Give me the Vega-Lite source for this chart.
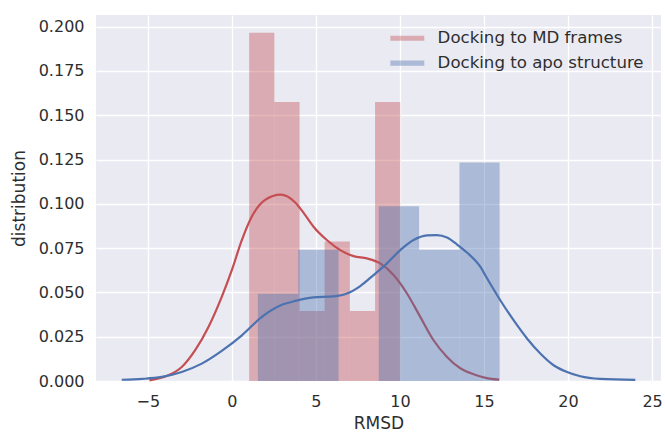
{
  "$schema": "https://vega.github.io/schema/vega-lite/v6.json",
  "width": 565,
  "height": 366,
  "autosize": "none",
  "padding": {"left": 96, "top": 15, "right": 4, "bottom": 52},
  "background": "white",
  "config": {
    "font": "DejaVu Sans",
    "view": {"fill": "#EAEAF2", "stroke": null},
    "axis": {
      "domain": false,
      "ticks": false,
      "gridColor": "white",
      "gridWidth": 1.3,
      "labelFont": "DejaVu Sans",
      "labelFontSize": 16,
      "labelColor": "#2e2e2e",
      "titleFont": "DejaVu Sans",
      "titleFontSize": 17,
      "titleFontWeight": "normal",
      "titleColor": "#2e2e2e"
    }
  },
  "datasets": {
    "hist": [
      {"series": "Docking to MD frames", "x0": 1.03, "x1": 2.53, "density": 0.1966},
      {"series": "Docking to MD frames", "x0": 2.53, "x1": 4.03, "density": 0.1575},
      {"series": "Docking to MD frames", "x0": 4.03, "x1": 5.52, "density": 0.0395},
      {"series": "Docking to MD frames", "x0": 5.52, "x1": 7.02, "density": 0.0788},
      {"series": "Docking to MD frames", "x0": 7.02, "x1": 8.52, "density": 0.0395},
      {"series": "Docking to MD frames", "x0": 8.52, "x1": 10.02, "density": 0.1575},
      {"series": "Docking to apo structure", "x0": 1.55, "x1": 3.95, "density": 0.0493},
      {"series": "Docking to apo structure", "x0": 3.95, "x1": 6.35, "density": 0.0741},
      {"series": "Docking to apo structure", "x0": 6.35, "x1": 8.74, "density": 0.0},
      {"series": "Docking to apo structure", "x0": 8.74, "x1": 11.14, "density": 0.0986},
      {"series": "Docking to apo structure", "x0": 11.14, "x1": 13.54, "density": 0.0741},
      {"series": "Docking to apo structure", "x0": 13.54, "x1": 15.93, "density": 0.1234}
    ],
    "kde": [
      {"series": "red", "x": -4.9, "y": 0.0004},
      {"series": "red", "x": -3.78, "y": 0.0032},
      {"series": "red", "x": -2.98, "y": 0.0079},
      {"series": "red", "x": -2.18, "y": 0.0174},
      {"series": "red", "x": -1.39, "y": 0.0305},
      {"series": "red", "x": -0.6, "y": 0.0475},
      {"series": "red", "x": 0.0, "y": 0.0626},
      {"series": "red", "x": 0.6, "y": 0.0796},
      {"series": "red", "x": 1.19, "y": 0.0928},
      {"series": "red", "x": 1.98, "y": 0.1022},
      {"series": "red", "x": 2.9, "y": 0.1052},
      {"series": "red", "x": 3.77, "y": 0.1008},
      {"series": "red", "x": 4.3, "y": 0.0945},
      {"series": "red", "x": 4.86, "y": 0.0871},
      {"series": "red", "x": 5.65, "y": 0.0796},
      {"series": "red", "x": 6.45, "y": 0.0739},
      {"series": "red", "x": 7.24, "y": 0.0705},
      {"series": "red", "x": 8.04, "y": 0.0692},
      {"series": "red", "x": 8.83, "y": 0.0664},
      {"series": "red", "x": 9.62, "y": 0.0598},
      {"series": "red", "x": 10.42, "y": 0.0494},
      {"series": "red", "x": 11.21, "y": 0.0362},
      {"series": "red", "x": 12.0, "y": 0.023},
      {"series": "red", "x": 12.8, "y": 0.0136},
      {"series": "red", "x": 13.59, "y": 0.0072},
      {"series": "red", "x": 14.38, "y": 0.0038},
      {"series": "red", "x": 15.1, "y": 0.0018},
      {"series": "red", "x": 15.9, "y": 0.0008},
      {"series": "blue", "x": -6.55, "y": 0.0007},
      {"series": "blue", "x": -5.3, "y": 0.0012},
      {"series": "blue", "x": -4.17, "y": 0.0023},
      {"series": "blue", "x": -2.98, "y": 0.0051},
      {"series": "blue", "x": -1.79, "y": 0.0098},
      {"series": "blue", "x": -0.6, "y": 0.017},
      {"series": "blue", "x": 0.6, "y": 0.0258},
      {"series": "blue", "x": 1.79, "y": 0.0362},
      {"series": "blue", "x": 2.98, "y": 0.043},
      {"series": "blue", "x": 3.77, "y": 0.0452},
      {"series": "blue", "x": 4.86, "y": 0.0472},
      {"series": "blue", "x": 6.05, "y": 0.0478},
      {"series": "blue", "x": 6.85, "y": 0.0494},
      {"series": "blue", "x": 7.64, "y": 0.0536},
      {"series": "blue", "x": 8.43, "y": 0.0598},
      {"series": "blue", "x": 9.23, "y": 0.0664},
      {"series": "blue", "x": 10.02, "y": 0.0739},
      {"series": "blue", "x": 10.81, "y": 0.0796},
      {"series": "blue", "x": 11.61, "y": 0.0822},
      {"series": "blue", "x": 12.2, "y": 0.0824},
      {"series": "blue", "x": 12.8, "y": 0.081},
      {"series": "blue", "x": 13.4, "y": 0.077},
      {"series": "blue", "x": 13.99, "y": 0.0725},
      {"series": "blue", "x": 14.78, "y": 0.0645},
      {"series": "blue", "x": 15.18, "y": 0.058},
      {"series": "blue", "x": 15.97, "y": 0.0456},
      {"series": "blue", "x": 16.76, "y": 0.0343},
      {"series": "blue", "x": 17.56, "y": 0.024},
      {"series": "blue", "x": 18.35, "y": 0.0155},
      {"series": "blue", "x": 19.14, "y": 0.0089},
      {"series": "blue", "x": 19.94, "y": 0.0051},
      {"series": "blue", "x": 20.73, "y": 0.0027},
      {"series": "blue", "x": 21.92, "y": 0.0012},
      {"series": "blue", "x": 24.0, "y": 0.0006}
    ]
  },
  "layer": [
    {
      "data": {"name": "hist"},
      "transform": [{"filter": "datum.series === 'Docking to MD frames'"}],
      "mark": {"type": "rect", "fillOpacity": 0.4, "strokeWidth": 0},
      "encoding": {
        "x": {"field": "x0", "type": "quantitative",
              "scale": {"domain": [-8.08, 25.53], "nice": false, "zero": false},
              "axis": {"values": [-5, 0, 5, 10, 15, 20, 25], "format": "d", "title": "RMSD", "labelPadding": 12, "titlePadding": 6}},
        "x2": {"field": "x1"},
        "y": {"field": "density", "type": "quantitative",
              "scale": {"domain": [0, 0.2066], "nice": false, "zero": true},
              "axis": {"values": [0, 0.025, 0.05, 0.075, 0.1, 0.125, 0.15, 0.175, 0.2], "format": ".3f", "title": "distribution", "labelPadding": 12, "titlePadding": 10}},
        "y2": {"datum": 0},
        "color": {"field": "series", "type": "nominal",
                  "scale": {"domain": ["Docking to MD frames", "Docking to apo structure"], "range": ["#C44E52", "#4C72B0"]},
                  "legend": {
                    "title": null, "orient": "none", "legendX": 303, "legendY": 15,
                    "symbolType": "M-2.125,-0.32H2.125V0.32H-2.125Z",
                    "symbolSize": 256, "symbolOpacity": 0.4, "symbolStrokeWidth": 0,
                    "labelFontSize": 16.6, "labelColor": "#2e2e2e", "labelOffset": 22, "labelLimit": 0,
                    "rowPadding": 7.8, "padding": 0
                  }}
      }
    },
    {
      "data": {"name": "kde"},
      "transform": [{"filter": "datum.series === 'red'"}],
      "mark": {"type": "line", "color": "#C44E52", "strokeWidth": 2.2, "interpolate": "monotone"},
      "encoding": {
        "x": {"field": "x", "type": "quantitative"},
        "y": {"field": "y", "type": "quantitative"}
      }
    },
    {
      "data": {"name": "hist"},
      "transform": [{"filter": "datum.series === 'Docking to apo structure'"}],
      "mark": {"type": "rect", "fillOpacity": 0.4, "strokeWidth": 0},
      "encoding": {
        "x": {"field": "x0", "type": "quantitative"},
        "x2": {"field": "x1"},
        "y": {"field": "density", "type": "quantitative"},
        "y2": {"datum": 0},
        "color": {"field": "series", "type": "nominal"}
      }
    },
    {
      "data": {"name": "kde"},
      "transform": [{"filter": "datum.series === 'blue'"}],
      "mark": {"type": "line", "color": "#4C72B0", "strokeWidth": 2.2, "interpolate": "monotone"},
      "encoding": {
        "x": {"field": "x", "type": "quantitative"},
        "y": {"field": "y", "type": "quantitative"}
      }
    }
  ]
}
